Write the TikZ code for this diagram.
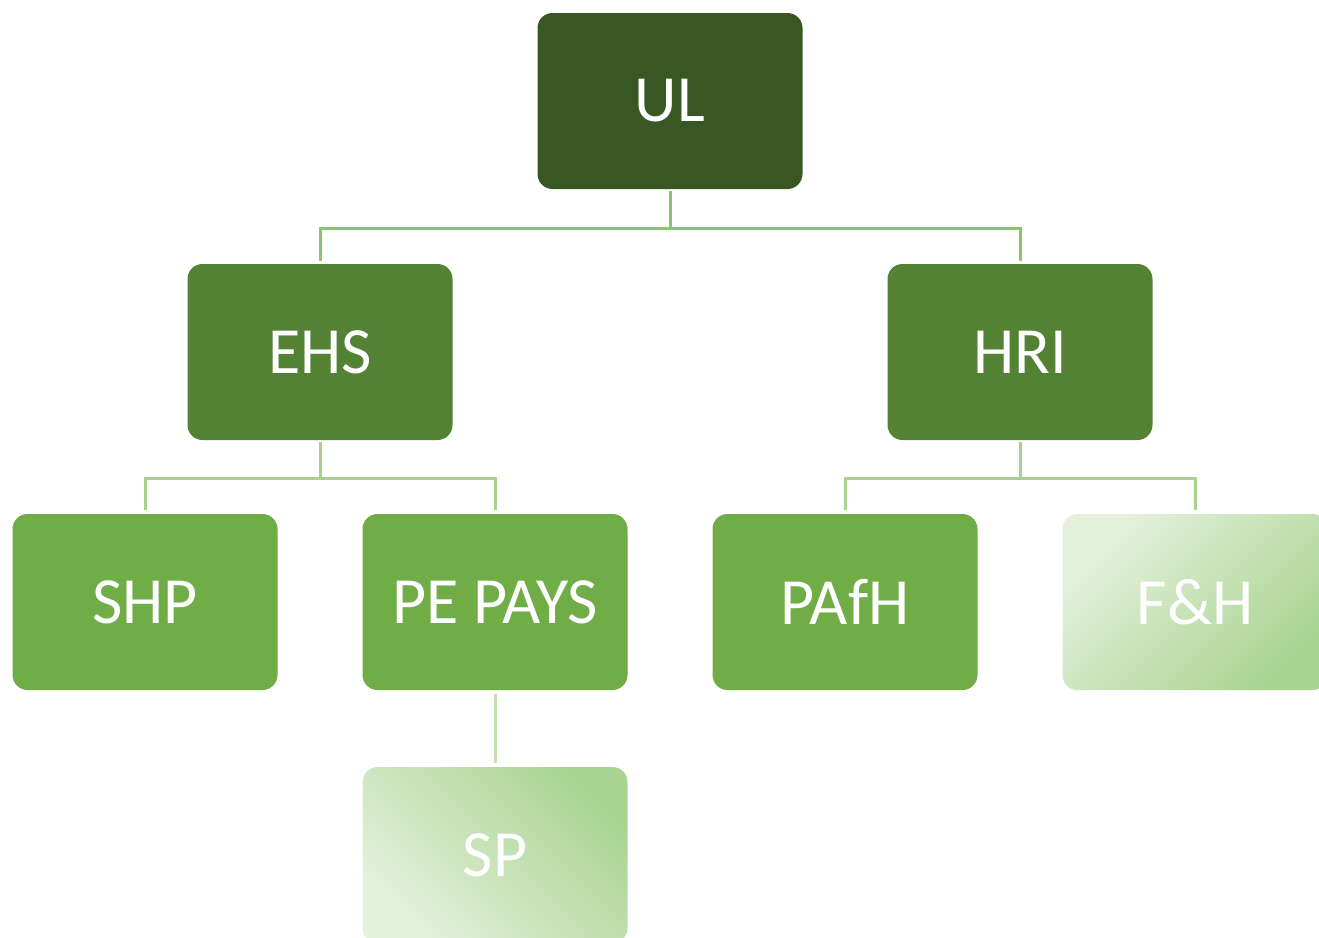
\documentclass[tikz,border=0pt]{standalone}
\usepackage{fontspec}
\setmainfont{Carlito}
\definecolor{cUL}{HTML}{385723}
\definecolor{cMid}{HTML}{548235}
\definecolor{cLow}{HTML}{70AD47}
\definecolor{gLight}{HTML}{E4F1DC}
\definecolor{gDark}{HTML}{A9D491}
\definecolor{lnA}{HTML}{8CC46C}
\definecolor{lnB}{HTML}{A9D08E}
\definecolor{lnC}{HTML}{C5E0B4}
\tikzset{
  orgbox/.style={rectangle, rounded corners=15pt, minimum width=265pt, minimum height=176pt,
    inner sep=0pt, text=white, font=\fontsize{66}{70}\selectfont},
  fadebox/.style={orgbox, shading=axis, top color=gLight, bottom color=gDark},
  connA/.style={draw=lnA, line width=3pt},
  connB/.style={draw=lnB, line width=3pt},
  connC/.style={draw=lnC, line width=3pt}
}
\begin{document}
\begin{tikzpicture}[x=1pt,y=-1pt]
\useasboundingbox (0,0) rectangle (1319,937);
\clip (0,0) rectangle (1319,937);
\node[orgbox, fill=cUL] (ul) at (670,101) {UL};
\node[orgbox, fill=cMid] (ehs) at (320,352) {EHS};
\node[orgbox, fill=cMid] (hri) at (1020,352) {HRI};
\node[orgbox, fill=cLow] (shp) at (145,602) {SHP};
\node[orgbox, fill=cLow] (pe) at (495,602) {PE PAYS};
\node[orgbox, fill=cLow] (pafh) at (845,602) {PAfH};
\node[fadebox, shading angle=45] (fh) at (1195,602) {F\&H};
\node[fadebox, shading angle=135] (sp) at (495,855) {SP};
\coordinate (j1) at (670,228);
\coordinate (j2) at (320,478);
\coordinate (j3) at (1020,478);
\path[connA] ([yshift=-2pt]ul.south) -- (j1);
\path[connA] ([yshift=3pt]ehs.north) |- (j1) -| ([yshift=3pt]hri.north);
\path[connB] ([yshift=-2pt]ehs.south) -- (j2);
\path[connB] ([yshift=4pt]shp.north) |- (j2) -| ([yshift=4pt]pe.north);
\path[connB] ([yshift=-2pt]hri.south) -- (j3);
\path[connB] ([yshift=4pt]pafh.north) |- (j3) -| ([yshift=4pt]fh.north);
\path[connC] ([yshift=-4pt]pe.south) -- ([yshift=4pt]sp.north);
\end{tikzpicture}
\end{document}
